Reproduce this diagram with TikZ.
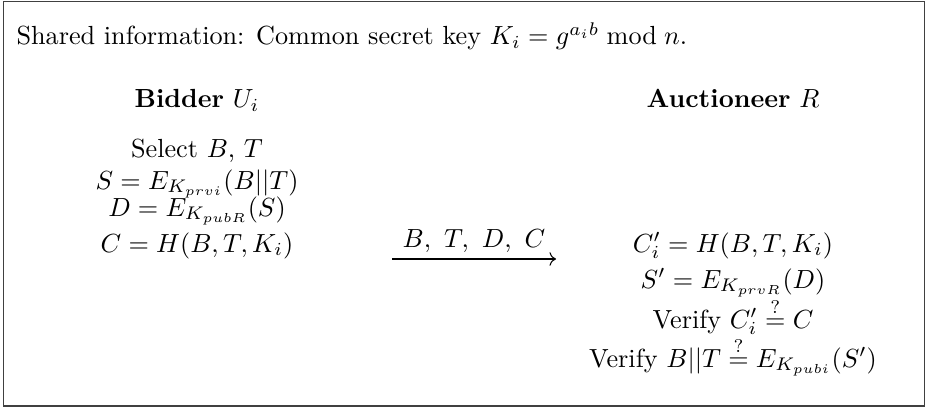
\documentclass[tikz,border=0pt]{standalone}
\usetikzlibrary{arrows.meta}
\begin{document}
\begin{tikzpicture}[x=0.3817pt,y=-0.3817pt,
  txt/.style={inner sep=0pt,anchor=base},
  frameline/.style={line width=0.6pt,draw=black!75},
  msg/.style={-{Computer Modern Rightarrow},line width=0.4pt}]
\useasboundingbox (0,0) rectangle (928,408);
\draw[frameline] (3.5,1.5) rectangle (924.5,406);
\node[txt,anchor=base west] (shared) at (16,45) {Shared information: Common secret key $K_i=g^{a_ib} \bmod n$.};
\node[txt] (bidder) at (197,108) {\textbf{Bidder} $U_i$};
\node[txt] (auct) at (733,108) {\textbf{Auctioneer} $R$};
\node[txt] (l1) at (197,157) {Select $B$, $T$};
\node[txt] (l2) at (197,189) {$S=E_{K_{prvi}}(B||T)$};
\node[txt] (l3) at (197,216) {$D=E_{K_{pubR}}(S)$};
\node[txt] (l4) at (197,252) {$C=H(B,T,K_i)$};
\node[txt] (r1) at (733,252) {$C_i'=H(B,T,K_i)$};
\node[txt] (r2) at (733,288) {$S'=E_{K_{prvR}}(D)$};
\node[txt] (r3) at (733,328) {Verify $C_i'\stackrel{?}{=}C$};
\node[txt] (r4) at (733,367) {Verify $B||T\stackrel{?}{=}E_{K_{pubi}}(S')$};
\coordinate (a0) at (392,259);
\coordinate (a1) at (556,259);
\draw[msg] (a0) -- (a1);
\node[txt] (lbl) at (474,247) {$B,\ T,\ D,\ C$};
\end{tikzpicture}
\end{document}
